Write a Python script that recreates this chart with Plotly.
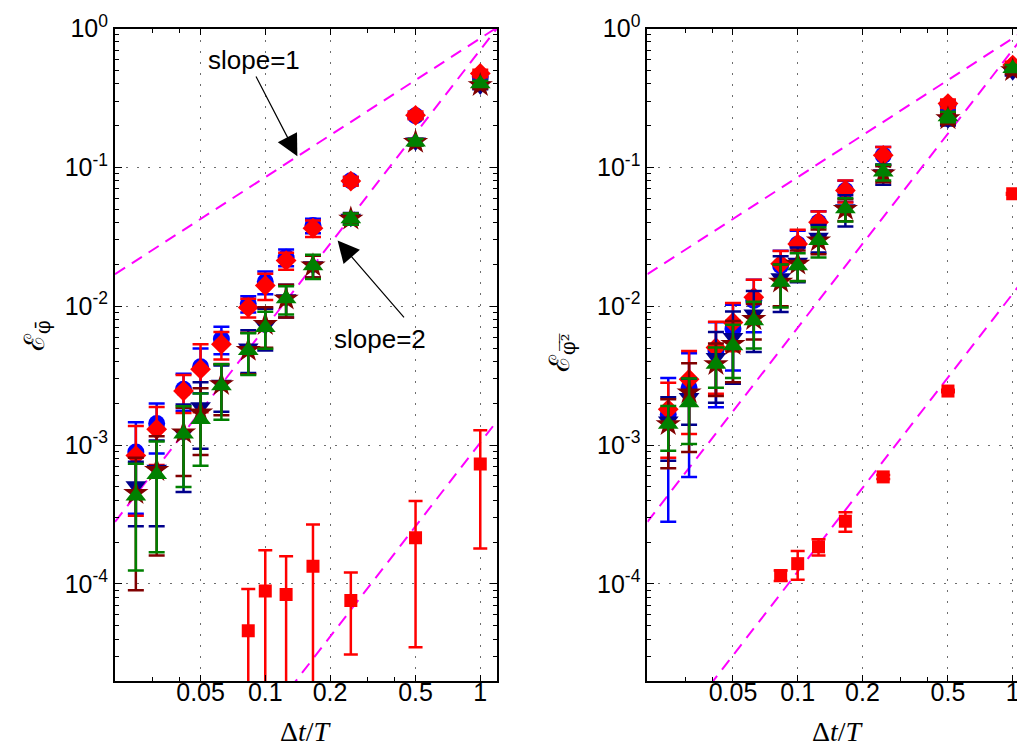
import math
import plotly.graph_objects as go

# ---------------- data ----------------
dt = [1/40, 1/32, 1/24, 1/20, 1/16, 1/12, 1/10, 1/8, 1/6, 1/4, 1/2, 1]
dt_sq = [1/12, 1/10, 1/8, 1/6, 1/4, 1/2, 1]

# left panel (E_phibar)
L_blue = [8.9e-4, 1.43e-3, 2.52e-3, 3.66e-3, 5.8e-3, 1.04e-2, 1.50e-2, 2.25e-2, 3.81e-2, 8.0e-2, 0.235, 0.45]
L_blue_err = [5.7e-4, 5.6e-4, 7.5e-4, 1.3e-3, 1.3e-3, 1.4e-3, 2.8e-3, 3.1e-3, 4.5e-3, 5e-3, 1e-2, 2e-2]
L_red = [8.4e-4, 1.30e-3, 2.45e-3, 3.52e-3, 5.33e-3, 9.8e-3, 1.41e-2, 2.13e-2, 3.65e-2, 7.96e-2, 0.237, 0.475]
L_red_err = [5.3e-4, 5.8e-4, 7.5e-4, 1.8e-3, 1.2e-3, 1.5e-3, 3e-3, 3e-3, 5e-3, 6e-3, 1.5e-2, 3e-2]
L_navy = [5.1e-4, 6.7e-4, 1.21e-3, 1.89e-3, 2.74e-3, 5.0e-3, 7.2e-3, 1.13e-2, 1.96e-2, 4.3e-2, 0.152, 0.385]
L_navy_err = [2.5e-4, 4.1e-4, 7.5e-4, 9.5e-4, 1e-3, 1.7e-3, 2.4e-3, 3e-3, 3.5e-3, 4e-3, 8e-3, 2e-2]
L_maroon = [4.5e-4, 6.6e-4, 1.23e-3, 1.71e-3, 2.74e-3, 4.83e-3, 7.43e-3, 1.13e-2, 1.96e-2, 4.26e-2, 0.152, 0.39]
L_maroon_err = [3.6e-4, 5e-4, 6.3e-4, 8.6e-4, 1.1e-3, 1.6e-3, 2.4e-3, 3e-3, 3.5e-3, 4e-3, 8e-3, 2e-2]
L_green = [4.3e-4, 6.14e-4, 1.2e-3, 1.53e-3, 2.67e-3, 4.8e-3, 7.03e-3, 1.13e-2, 1.96e-2, 4.26e-2, 0.152, 0.40]
L_green_err = [3.05e-4, 4.45e-4, 7e-4, 8.2e-4, 1.15e-3, 1.6e-3, 2.1e-3, 2.6e-3, 3.9e-3, 4e-3, 8e-3, 2e-2]
L_sq = [4.6e-5, 8.9e-5, 8.4e-5, 1.34e-4, 7.6e-5, 2.15e-4, 7.3e-4]
L_sq_err = [4.6e-5, 8.6e-5, 7.4e-5, 1.34e-4, 4.5e-5, 1.8e-4, 5.5e-4]

# right panel (E_phi2bar)
R_blue = [1.66e-3, 2.59e-3, 4.77e-3, 6.84e-3, 1.1e-2, 1.96e-2, 2.8e-2, 4.03e-2, 6.82e-2, 0.122, 0.28, 0.52]
R_blue_err = [1.38e-3, 2.0e-3, 2.9e-3, 3.4e-3, 4.5e-3, 5.5e-3, 7e-3, 8e-3, 1.2e-2, 1.8e-2, 2e-2, 3e-2]
R_red = [1.81e-3, 2.98e-3, 5.04e-3, 7.64e-3, 1.16e-2, 2.02e-2, 2.81e-2, 4.03e-2, 6.82e-2, 0.122, 0.288, 0.545]
R_red_err = [1.0e-3, 1.78e-3, 2.7e-3, 2.9e-3, 3.9e-3, 4.8e-3, 7.4e-3, 7.8e-3, 1.23e-2, 1.8e-2, 2e-2, 3e-2]
R_navy = [1.49e-3, 2.2e-3, 4.27e-3, 5.96e-3, 8.78e-3, 1.6e-2, 2.07e-2, 3.14e-2, 5.03e-2, 9.0e-2, 0.22, 0.488]
R_navy_err = [7.2e-4, 8e-4, 2.25e-3, 3.2e-3, 4.1e-3, 6.9e-3, 5.8e-3, 7e-3, 1.28e-2, 1.5e-2, 2e-2, 3e-2]
R_maroon = [1.41e-3, 2.39e-3, 3.82e-3, 5.33e-3, 8.07e-3, 1.5e-2, 2.02e-2, 2.97e-2, 5.0e-2, 9.0e-2, 0.225, 0.5]
R_maroon_err = [7.3e-4, 1.5e-3, 1.56e-3, 2.5e-3, 2.3e-3, 5e-3, 5e-3, 6e-3, 9e-3, 1.2e-2, 2e-2, 3e-2]
R_green = [1.41e-3, 2.02e-3, 3.82e-3, 5.19e-3, 7.86e-3, 1.49e-2, 1.96e-2, 2.97e-2, 5.03e-2, 9.25e-2, 0.231, 0.516]
R_green_err = [5e-4, 1.0e-3, 1.23e-3, 2.15e-3, 2.9e-3, 5.1e-3, 4.5e-3, 7.3e-3, 9.5e-3, 1.2e-2, 2e-2, 3e-2]
R_sq = [1.15e-4, 1.40e-4, 1.85e-4, 2.83e-4, 5.9e-4, 2.45e-3, 6.45e-2]
R_sq_err = [1e-5, 3.3e-5, 2.5e-5, 4.5e-5, 2e-5, 5e-5, 1e-3]

# reference slope lines (endpoints)
L_lines = [([0.02, 1.2], [0.017, 1.02]), ([0.02, 1.2], [2.8e-4, 1.01]), ([0.1, 1.2], [1.04e-5, 1.5e-3])]
R_lines = [([0.02, 1.2], [0.017, 1.02]), ([0.02, 1.2], [2.8e-4, 1.01]), ([0.03, 1.2], [1.1e-5, 1.77e-2])]

x_ticks = [0.05, 0.1, 0.2, 0.5, 1]
x_ticktext = ["0.05", "0.1", "0.2", "0.5", "1"]
y_ticks = [1e-4, 1e-3, 1e-2, 1e-1, 1]
y_ticktext = ["10<sup>-4</sup>", "10<sup>-3</sup>", "10<sup>-2</sup>", "10<sup>-1</sup>", "10<sup>0</sup>"]

# ---------------- figure ----------------
OFF = 8                      # page body margin
W, H = 1025 - OFF, 756 - 2 * OFF

def px(xp):                  # target window pixel -> paper fraction
    return (xp - OFF) / W

def py(yp):
    return 1 - (yp - OFF) / H

fig = go.Figure()

series_style = [
    ("blue", "circle", 17),
    ("red", "diamond", 16),
    ("#00008b", "triangle-down", 18),
    ("#800000", "star", 19),
    ("#008000", "triangle-up", 18),
]

def add_panel(xa, ya, series, sq, sq_err, lines):
    for lx, ly in lines:
        fig.add_trace(go.Scatter(x=lx, y=ly, mode="lines", xaxis=xa, yaxis=ya,
                                 line=dict(color="#ff00ff", width=2, dash="12px,8px"),
                                 showlegend=False, hoverinfo="skip"))
    for (vals, errs), (col, sym, sz) in zip(series, series_style):
        fig.add_trace(go.Scatter(x=dt, y=vals, mode="markers", xaxis=xa, yaxis=ya,
                                 marker=dict(color=col, symbol=sym, size=sz, line=dict(width=0)),
                                 error_y=dict(type="data", array=errs, visible=True,
                                              color=col, thickness=2.5, width=8),
                                 showlegend=False))
    fig.add_trace(go.Scatter(x=dt_sq, y=sq, mode="markers", xaxis=xa, yaxis=ya,
                             marker=dict(color="red", symbol="square", size=13, line=dict(width=0)),
                             error_y=dict(type="data", array=sq_err, visible=True,
                                          color="red", thickness=2.5, width=7),
                             showlegend=False))

add_panel("x", "y",
          [(L_blue, L_blue_err), (L_red, L_red_err), (L_navy, L_navy_err),
           (L_maroon, L_maroon_err), (L_green, L_green_err)],
          L_sq, L_sq_err, L_lines)
add_panel("x2", "y2",
          [(R_blue, R_blue_err), (R_red, R_red_err), (R_navy, R_navy_err),
           (R_maroon, R_maroon_err), (R_green, R_green_err)],
          R_sq, R_sq_err, R_lines)

tickfont = dict(family="Liberation Sans, Arial, sans-serif", size=25, color="black")
grid = dict(showgrid=True, gridcolor="#6e6e6e", gridwidth=1, griddash="2px,9px")
y_minor = [k * 10.0 ** e for e in range(-5, 1) for k in range(2, 10)]
x_minor = [0.03, 0.04, 0.3, 0.4]

xcommon = dict(type="log", tickmode="array", tickvals=x_ticks, ticktext=x_ticktext,
               ticks="inside", ticklen=6, tickwidth=1, tickcolor="black",
               showline=True, linecolor="black", linewidth=2, zeroline=False,
               tickfont=tickfont, automargin=False, ticklabelstandoff=-12,
               minor=dict(ticks="inside", ticklen=4, tickcolor="black", tickvals=x_minor, showgrid=False),
               **grid)
ycommon = dict(type="log", tickmode="array", tickvals=y_ticks, ticktext=y_ticktext,
               range=[-4.699, 0], ticks="inside", ticklen=7, tickwidth=1, tickcolor="black",
               showline=True, linecolor="black", linewidth=2, zeroline=False,
               tickfont=tickfont, automargin=False,
               minor=dict(ticks="inside", ticklen=4, tickcolor="black", tickvals=y_minor, showgrid=False),
               **grid)

ydom = [py(681), py(28.5)]
fig.update_layout(
    template="none",
    width=W, height=H, margin=dict(l=0, r=0, t=0, b=0, pad=0, autoexpand=False),
    paper_bgcolor="white", plot_bgcolor="white",
    xaxis=dict(domain=[px(115), px(497.3)], range=[-1.699, 0.0792], mirror="ticks", anchor="y", **xcommon),
    yaxis=dict(domain=ydom, mirror="ticks", anchor="x", **ycommon),
    xaxis2=dict(domain=[px(647.4), 1.0], range=[-1.699, -1.699 + (1025 - 647.4) / 215.0],
                mirror="ticks", anchor="y2", **xcommon),
    yaxis2=dict(domain=ydom, mirror=False, anchor="x2", **ycommon),
)

lg = math.log10
arrow = dict(showarrow=True, arrowhead=2, arrowsize=3.6, arrowwidth=1.2, arrowcolor="black", text="",
             xref="x", yref="y", axref="x", ayref="y")
lab = dict(showarrow=False, xanchor="center", yanchor="middle")
anns = [
    dict(x=lg(0.141), y=lg(0.12), ax=lg(0.0898), ay=lg(0.462), **arrow),
    dict(x=lg(0.217), y=lg(0.0297), ax=lg(0.448), ay=lg(8.1e-3), **arrow),
    dict(x=lg(0.089), y=lg(0.59), xref="x", yref="y", text="slope=1",
         font=dict(family="Liberation Sans, Arial, sans-serif", size=26, color="black"), **lab),
    dict(x=lg(0.343), y=lg(5.8e-3), xref="x", yref="y", text="slope=2",
         font=dict(family="Liberation Sans, Arial, sans-serif", size=26, color="black"), **lab),
    dict(x=px(36), y=py(336), xref="paper", yref="paper", text="ℰ<sub>φ̄</sub>", textangle=-90,
         font=dict(family="DejaVu Serif, serif", size=28, color="black"), **lab),
    dict(x=px(561), y=py(353), xref="paper", yref="paper", text="ℰ<sub>φ\u0305\u00b2\u0305</sub>",
         textangle=-90, font=dict(family="DejaVu Serif, serif", size=28, color="black"), **lab),
    dict(x=px(306), y=py(731), xref="paper", yref="paper", text="Δ<i>t</i>/<i>T</i>",
         font=dict(family="Liberation Serif, serif", size=28, color="black"), **lab),
    dict(x=px(838), y=py(731), xref="paper", yref="paper", text="Δ<i>t</i>/<i>T</i>",
         font=dict(family="Liberation Serif, serif", size=28, color="black"), **lab),
]
fig.update_layout(annotations=anns)

fig.write_html("out.html")
